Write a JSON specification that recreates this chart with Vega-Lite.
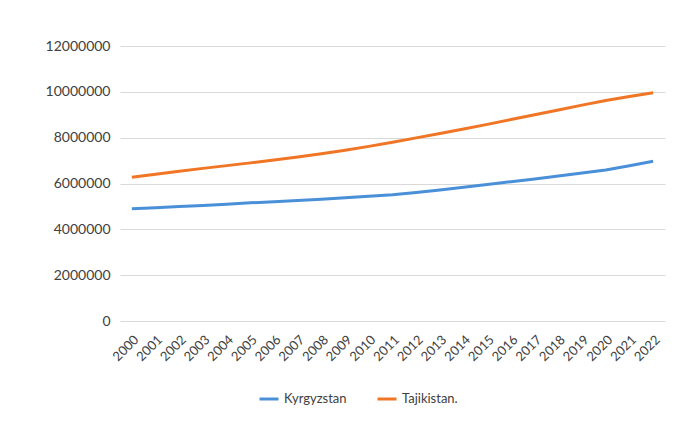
{
  "$schema": "https://vega.github.io/schema/vega-lite/v6.json",
  "width": 545,
  "height": 275,
  "autosize": {"type": "none"},
  "padding": {"left": 120, "top": 46, "right": 22, "bottom": 116},
  "background": "white",
  "config": {
    "view": {"stroke": null},
    "font": "Lato",
    "axis": {"labelFont": "Lato", "labelColor": "#404040", "labelFontSize": 13},
    "legend": {"labelFont": "Lato", "labelColor": "#404040", "labelFontSize": 13}
  },
  "data": {
    "values": [
      {"year": "2000", "country": "Kyrgyzstan", "value": 4898000},
      {"year": "2001", "country": "Kyrgyzstan", "value": 4946000},
      {"year": "2002", "country": "Kyrgyzstan", "value": 4991000},
      {"year": "2003", "country": "Kyrgyzstan", "value": 5043000},
      {"year": "2004", "country": "Kyrgyzstan", "value": 5099000},
      {"year": "2005", "country": "Kyrgyzstan", "value": 5155000},
      {"year": "2006", "country": "Kyrgyzstan", "value": 5208000},
      {"year": "2007", "country": "Kyrgyzstan", "value": 5260000},
      {"year": "2008", "country": "Kyrgyzstan", "value": 5318000},
      {"year": "2009", "country": "Kyrgyzstan", "value": 5383000},
      {"year": "2010", "country": "Kyrgyzstan", "value": 5448000},
      {"year": "2011", "country": "Kyrgyzstan", "value": 5514000},
      {"year": "2012", "country": "Kyrgyzstan", "value": 5607000},
      {"year": "2013", "country": "Kyrgyzstan", "value": 5720000},
      {"year": "2014", "country": "Kyrgyzstan", "value": 5836000},
      {"year": "2015", "country": "Kyrgyzstan", "value": 5957000},
      {"year": "2016", "country": "Kyrgyzstan", "value": 6079000},
      {"year": "2017", "country": "Kyrgyzstan", "value": 6198000},
      {"year": "2018", "country": "Kyrgyzstan", "value": 6323000},
      {"year": "2019", "country": "Kyrgyzstan", "value": 6457000},
      {"year": "2020", "country": "Kyrgyzstan", "value": 6592000},
      {"year": "2021", "country": "Kyrgyzstan", "value": 6775000},
      {"year": "2022", "country": "Kyrgyzstan", "value": 6975000},
      {"year": "2000", "country": "Tajikistan.", "value": 6272000},
      {"year": "2001", "country": "Tajikistan.", "value": 6400000},
      {"year": "2002", "country": "Tajikistan.", "value": 6530000},
      {"year": "2003", "country": "Tajikistan.", "value": 6660000},
      {"year": "2004", "country": "Tajikistan.", "value": 6780000},
      {"year": "2005", "country": "Tajikistan.", "value": 6900000},
      {"year": "2006", "country": "Tajikistan.", "value": 7030000},
      {"year": "2007", "country": "Tajikistan.", "value": 7160000},
      {"year": "2008", "country": "Tajikistan.", "value": 7300000},
      {"year": "2009", "country": "Tajikistan.", "value": 7450000},
      {"year": "2010", "country": "Tajikistan.", "value": 7620000},
      {"year": "2011", "country": "Tajikistan.", "value": 7800000},
      {"year": "2012", "country": "Tajikistan.", "value": 7990000},
      {"year": "2013", "country": "Tajikistan.", "value": 8180000},
      {"year": "2014", "country": "Tajikistan.", "value": 8380000},
      {"year": "2015", "country": "Tajikistan.", "value": 8580000},
      {"year": "2016", "country": "Tajikistan.", "value": 8790000},
      {"year": "2017", "country": "Tajikistan.", "value": 9000000},
      {"year": "2018", "country": "Tajikistan.", "value": 9210000},
      {"year": "2019", "country": "Tajikistan.", "value": 9420000},
      {"year": "2020", "country": "Tajikistan.", "value": 9620000},
      {"year": "2021", "country": "Tajikistan.", "value": 9800000},
      {"year": "2022", "country": "Tajikistan.", "value": 9960000}
    ]
  },
  "mark": {"type": "line", "strokeWidth": 3},
  "encoding": {
    "x": {
      "field": "year",
      "type": "ordinal",
      "title": null,
      "axis": {"labelAngle": -45, "domain": false, "ticks": false, "grid": false, "labelPadding": 12, "labelFontSize": 13}
    },
    "y": {
      "field": "value",
      "type": "quantitative",
      "title": null,
      "scale": {"domain": [0, 12000000]},
      "axis": {"values": [0, 2000000, 4000000, 6000000, 8000000, 10000000, 12000000], "format": "d", "domain": false, "ticks": false, "gridColor": "#d9d9d9", "labelPadding": 10, "labelFontSize": 14}
    },
    "color": {
      "field": "country",
      "type": "nominal",
      "scale": {"domain": ["Kyrgyzstan", "Tajikistan."], "range": ["#4a90d9", "#f07524"]},
      "legend": {"title": null, "orient": "none", "direction": "horizontal", "legendX": 138, "legendY": 342, "symbolType": "stroke", "symbolSize": 361, "symbolStrokeWidth": 3, "columnPadding": 24, "labelOffset": 4, "padding": 0}
    }
  }
}
